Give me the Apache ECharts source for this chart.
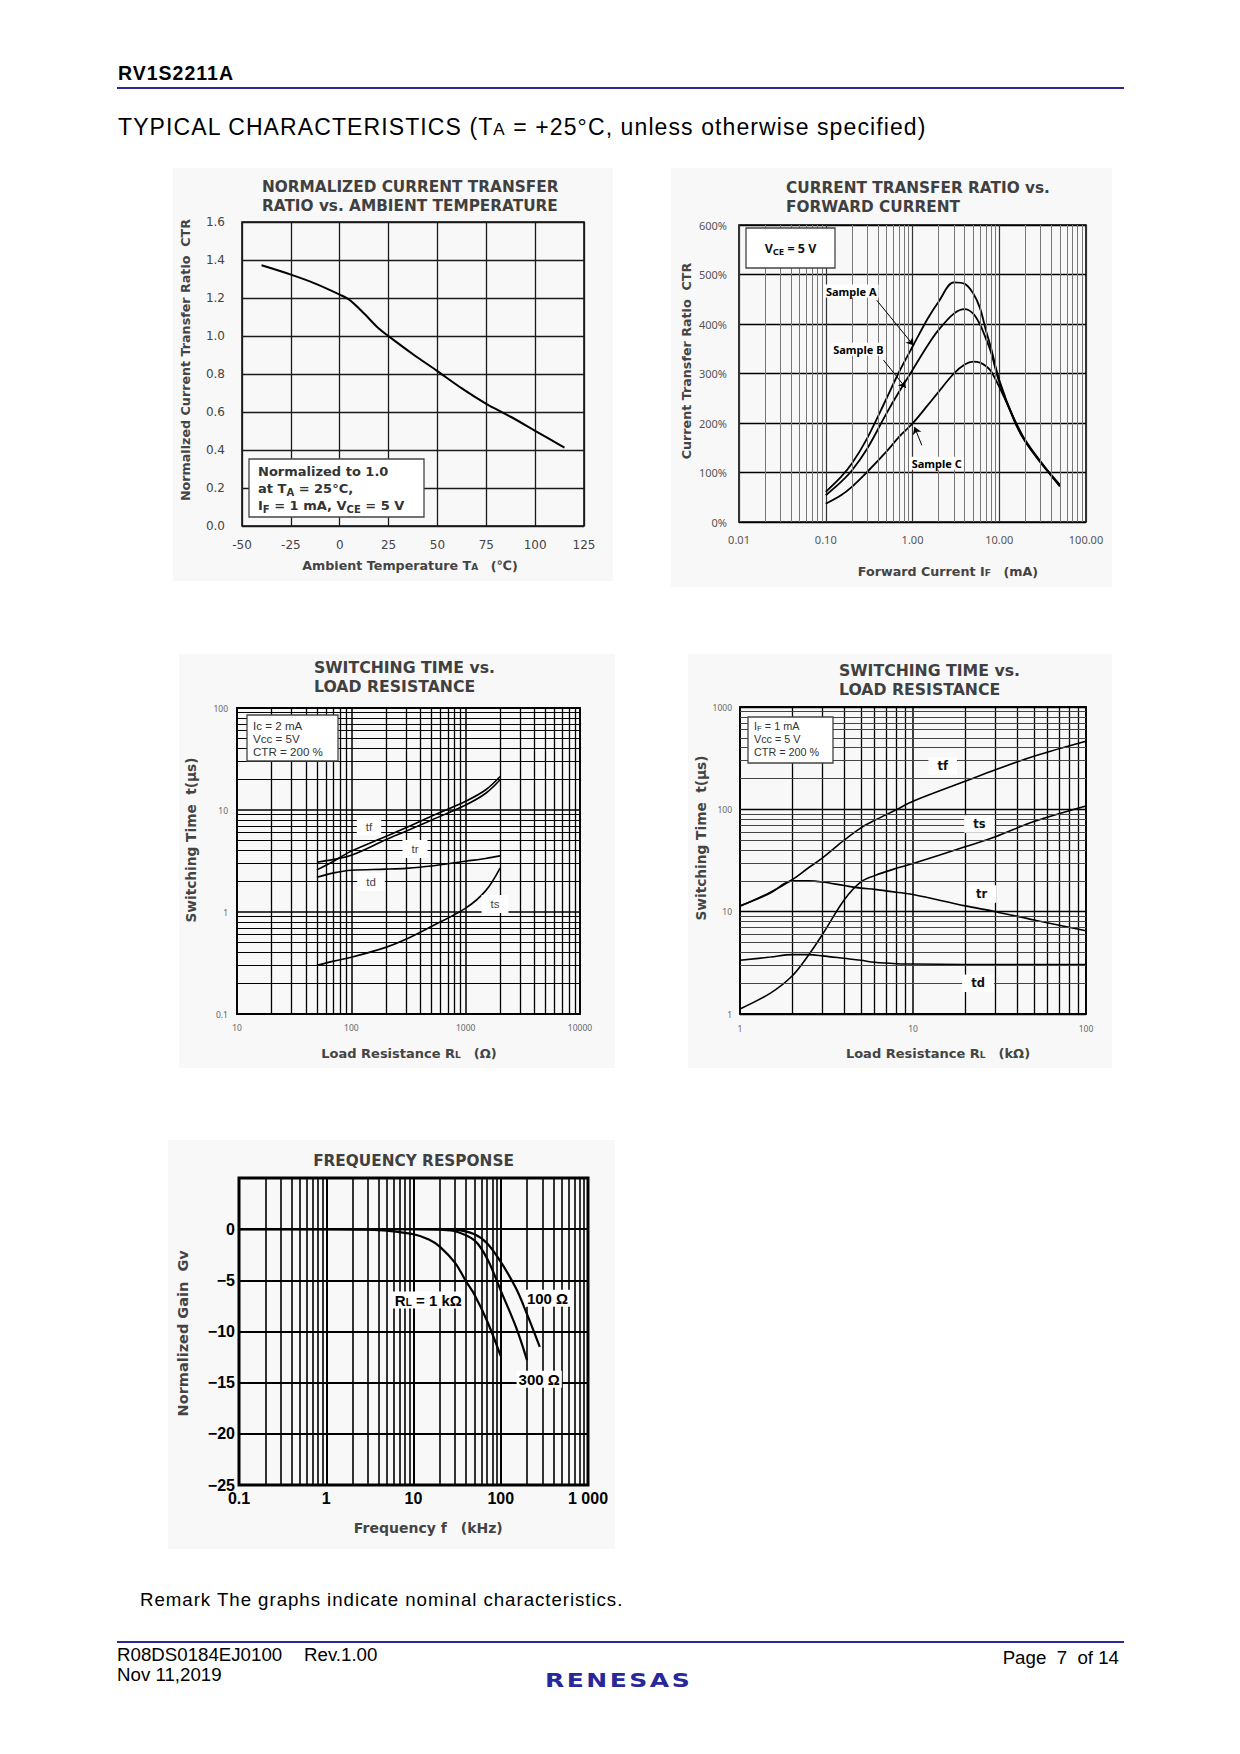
<!DOCTYPE html>
<html>
<head>
<meta charset="utf-8">
<script src="https://cdn.jsdelivr.net/npm/echarts@6/dist/echarts.min.js"></script>
<style>
html,body{margin:0;padding:0;background:#fff;}
#page{position:relative;width:1240px;height:1754px;overflow:hidden;background:#fff;}
#chart{position:absolute;left:0;top:0;width:1240px;height:1754px;}
.t{position:absolute;white-space:pre;font-family:"Liberation Sans",Arial,sans-serif;line-height:1;color:#000;}
.rule{position:absolute;left:117px;width:1007px;height:2px;background:#29299b;}
</style>
</head>
<body>
<div id="page">
<div id="chart"></div>
<div class="t" style="left:118px;top:63.5px;font-size:19.5px;font-weight:bold;letter-spacing:1px;">RV1S2211A</div>
<div class="rule" style="top:87.3px"></div>
<div class="t" style="left:118px;top:115.5px;font-size:23px;letter-spacing:1.1px;">TYPICAL CHARACTERISTICS (T<span style="font-size:17px">A</span> = +25°C, unless otherwise specified)</div>
<div class="t" style="left:140px;top:1591px;font-size:18.7px;letter-spacing:0.95px;">Remark The graphs indicate nominal characteristics.</div>
<div class="rule" style="top:1640.8px"></div>
<div class="t" style="left:117px;top:1646px;font-size:18.7px;">R08DS0184EJ0100</div>
<div class="t" style="left:304px;top:1646px;font-size:18.7px;">Rev.1.00</div>
<div class="t" style="left:117px;top:1666.2px;font-size:18.7px;">Nov 11,2019</div>
<div class="t" style="right:121px;top:1649.2px;font-size:18.7px;">Page  7  of 14</div>
<div class="t" style="left:545px;top:1670px;font-size:20px;font-weight:bold;font-family:'DejaVu Sans',sans-serif;letter-spacing:2px;color:#29289b;transform:scale(1.25,1);transform-origin:0 0;">RENESAS</div>
</div>
<script>
// ================= DATA =================
// Chart 1: Normalized CTR vs ambient temperature
const ambientTemp   = [-40, -25, -12.5, 0, 5, 12.5, 20, 25, 37.5, 50, 62.5, 75, 87.5, 100, 115];
const normalizedCtr = [1.372, 1.323, 1.276, 1.218, 1.19, 1.118, 1.039, 0.999, 0.904, 0.815, 0.724, 0.643, 0.575, 0.501, 0.412];
const tempTickLabels    = ['-50', '-25', '0', '25', '50', '75', '100', '125'];
const normCtrTickLabels = ['0.0', '0.2', '0.4', '0.6', '0.8', '1.0', '1.2', '1.4', '1.6'];

// Chart 2: CTR vs forward current (mA)
const forwardCurrent = [0.1, 0.15, 0.2, 0.3, 0.5, 0.7, 1, 1.5, 2, 3, 4, 5, 6, 7, 8, 10, 15, 20, 30, 50];
const ctrSampleA = [61, 91, 118, 169, 249, 303, 354, 411, 445, 484, 481, 462, 432, 388, 353, 287, 205, 163, 121, 75];
const ctrSampleB = [54, 81, 104, 148, 219, 263, 307, 357, 388, 421, 430, 421, 399, 371, 344, 283, 203, 162, 120, 73];
const ctrSampleC = [37, 54, 71, 101, 142, 172, 199, 236, 263, 300, 318, 324, 322, 315, 305, 273, 207, 165, 122, 72];
const ifTickLabels  = ['0.01', '0.10', '1.00', '10.00', '100.00'];
const ctrTickLabels = ['0%', '100%', '200%', '300%', '400%', '500%', '600%'];
// arrows from sample labels to curves: [from IF, from CTR, to IF, to CTR]
const sampleArrows = [[0.387, 448, 1.027, 357], [0.463, 327, 0.837, 271], [1.28, 155, 1.054, 192]];

// Chart 3: switching time vs load resistance (ohm), IC = 2 mA
const loadResOhm = [50, 70, 100, 200, 300, 500, 1000, 1500, 2000];
const tfOhm = [2.59, 3.15, 3.95, 5.5, 6.7, 8.7, 12.2, 15.8, 21.3];
const trOhm = [3.07, 3.28, 3.6, 5.1, 6.2, 7.95, 11.2, 14.6, 19.8];
const tdOhm = [2.19, 2.42, 2.57, 2.63, 2.68, 2.82, 3.15, 3.35, 3.55];
const tsOhm = [0.30, 0.33, 0.36, 0.45, 0.54, 0.72, 1.09, 1.62, 2.69];
const rOhmTickLabels = ['10', '100', '1000', '10000'];
const t3TickLabels   = ['0.1', '1', '10', '100'];

// Chart 4: switching time vs load resistance (kohm), IF = 1 mA
const loadResK = [1, 1.5, 2, 2.5, 3, 4, 5, 6, 8, 10, 20, 30, 50, 100];
const tfK = [11.3, 15.5, 20.5, 27, 33.5, 50, 66, 78, 99, 120, 188, 244, 330, 462];
const tsK = [1.12, 1.6, 2.35, 3.8, 6.0, 13, 19.5, 22.5, 26.5, 29.5, 43, 54, 76, 108];
const trK = [11.4, 15.2, 20, 20, 19.5, 18, 17, 16.5, 15.5, 14.7, 11.4, 10, 8.3, 6.5];
const tdK = [3.35, 3.6, 3.8, 3.8, 3.7, 3.5, 3.35, 3.2, 3.1, 3.08, 3.05, 3.05, 3.05, 3.05];
const rKTickLabels = ['1', '10', '100'];
const t4TickLabels = ['1', '10', '100', '1000'];

// Chart 5: frequency response (kHz, dB)
const freq1k  = [0.1, 1, 3, 5, 10, 15, 20, 30, 40, 50, 70, 100];
const gain1k  = [0, 0, -0.05, -0.15, -0.5, -1.0, -1.7, -3.3, -5.1, -6.4, -9.0, -12.4];
const freq300 = [0.1, 10, 20, 30, 50, 70, 100, 150, 200];
const gain300 = [0, 0, -0.05, -0.2, -1.1, -2.9, -6.0, -9.6, -12.8];
const freq100 = [0.1, 10, 20, 30, 50, 70, 100, 150, 200, 280];
const gain100 = [0, 0, 0, -0.05, -0.5, -1.4, -3.2, -5.8, -8.3, -11.5];
const freqTickLabels = ['0.1', '1', '10', '100', '1 000'];
const gainTickLabels = ['\u221225', '\u221220', '\u221215', '\u221210', '\u22125', '0', ''];

// ================= HELPERS =================
const FONT_V = "'DejaVu Sans', Verdana, 'Noto Sans CJK JP', sans-serif";
const FONT_N = "'Noto Sans', 'DejaVu Sans', sans-serif";
const FONT_A = "'Liberation Sans', Arial, sans-serif";

const pairs = (xs, ys) => xs.map((x, i) => [x, ys[i]]);
function minorLog(min, max) {
  const out = [];
  for (let e = Math.round(Math.log10(min)); e < Math.round(Math.log10(max)); e++) {
    const d = Math.pow(10, e);
    for (let k = 2; k <= 9; k++) out.push(parseFloat((k * d).toPrecision(4)));
  }
  return out;
}
const logLabel = (labels, min) => (v) => {
  const i = Math.round(Math.log10(v) - Math.log10(min));
  return labels[i] !== undefined ? labels[i] : '';
};
function markLines(items) {
  return { silent: true, symbol: ['none', 'none'], label: { show: false }, emphasis: { disabled: true },
           animation: false, lineStyle: { type: 'solid', color: '#000', width: 1 }, data: items };
}
const vLines = (vals, color, width) => vals.map(v => ({ xAxis: v, lineStyle: { type: 'solid', color, width } }));
const hLines = (vals, color, width) => vals.map(v => ({ yAxis: v, lineStyle: { type: 'solid', color, width } }));

function ax(gridIndex, extra) {
  return Object.assign({ gridIndex, axisLine: { show: false }, axisTick: { show: false },
    minorTick: { show: false }, minorSplitLine: { show: false } }, extra);
}
function lbl(o) {
  return Object.assign({ showMinLabel: true, showMaxLabel: true, hideOverlap: false }, o);
}
function curve(name, xi, data, width) {
  return { name, type: 'line', xAxisIndex: xi, yAxisIndex: xi, data, smooth: 0.35, showSymbol: false,
           symbol: 'none', silent: true, animation: false, z: 3,
           lineStyle: { color: '#000', width: width || 1.8 } };
}
function T(x, y, text, s, extra) {
  return Object.assign({ type: 'text', x, y, z: 100, silent: true,
    style: Object.assign({ text, fill: '#444', fontFamily: FONT_V, fontWeight: 'bold', fontSize: 12,
                           align: 'left', verticalAlign: 'middle' }, s) }, extra || {});
}
const ROT = { rotation: Math.PI / 2 };
function box(x, y, w, h) {
  return { type: 'rect', z: 90, silent: true, shape: { x, y, width: w, height: h },
           style: { fill: '#fff', stroke: '#444', lineWidth: 1.3 } };
}
function bg(x, y, w, h) {
  return { type: 'rect', z: -100, silent: true, shape: { x, y, width: w, height: h }, style: { fill: '#f8f8f8' } };
}
const sub = (size, fam, weight, fill, lh) => ({ fontSize: size, fontFamily: fam, fontWeight: weight, fill, lineHeight: lh, verticalAlign: 'bottom' });

// ================= OPTION =================
const gridBase = { show: true, borderColor: '#000', backgroundColor: 'transparent', containLabel: false, outerBoundsMode: 'none' };
const option = {
  animation: false,
  backgroundColor: 'transparent',
  grid: [
    Object.assign({ left: 242, top: 222, width: 342, height: 304, borderWidth: 1.5 }, gridBase),
    Object.assign({ left: 739, top: 225, width: 347, height: 297, borderWidth: 1.6 }, gridBase),
    Object.assign({ left: 237, top: 708, width: 343, height: 306, borderWidth: 1.8 }, gridBase),
    Object.assign({ left: 740, top: 707, width: 346, height: 307, borderWidth: 1.8 }, gridBase),
    Object.assign({ left: 239, top: 1178, width: 349, height: 307, borderWidth: 3 }, gridBase)
  ],
  xAxis: [
    ax(0, { type: 'value', min: -50, max: 125, interval: 25,
      splitLine: { show: true, lineStyle: { color: '#1a1a1a', width: 1.3 } },
      axisLabel: lbl({ color: '#444', fontFamily: FONT_V, fontSize: 12, margin: 13,
        formatter: v => tempTickLabels[Math.round((v + 50) / 25)] }) }),
    ax(1, { type: 'log', logBase: 10, min: 0.01, max: 100,
      splitLine: { show: true, lineStyle: { color: '#333', width: 1.2 } },
      axisLabel: lbl({ color: '#555', fontFamily: FONT_N, fontSize: 11, margin: 12, formatter: logLabel(ifTickLabels, 0.01) }) }),
    ax(2, { type: 'log', logBase: 10, min: 10, max: 10000,
      splitLine: { show: true, lineStyle: { color: '#000', width: 1.5 } },
      axisLabel: lbl({ color: '#666', fontFamily: FONT_N, fontSize: 8.5, margin: 9, formatter: logLabel(rOhmTickLabels, 10) }) }),
    ax(3, { type: 'log', logBase: 10, min: 1, max: 100,
      splitLine: { show: true, lineStyle: { color: '#000', width: 1.5 } },
      axisLabel: lbl({ color: '#666', fontFamily: FONT_N, fontSize: 8.5, margin: 10, formatter: logLabel(rKTickLabels, 1) }) }),
    ax(4, { type: 'log', logBase: 10, min: 0.1, max: 1000,
      splitLine: { show: true, lineStyle: { color: '#000', width: 2 } },
      axisLabel: lbl({ color: '#000', fontFamily: FONT_A, fontWeight: 'bold', fontSize: 16, margin: 5, formatter: logLabel(freqTickLabels, 0.1) }) })
  ],
  yAxis: [
    ax(0, { type: 'value', min: 0, max: 1.6, interval: 0.2,
      splitLine: { show: true, lineStyle: { color: '#1a1a1a', width: 1.3 } },
      axisLabel: lbl({ color: '#444', fontFamily: FONT_V, fontSize: 12, margin: 17,
        formatter: v => normCtrTickLabels[Math.round(v / 0.2)] }) }),
    ax(1, { type: 'value', min: 0, max: 600, interval: 100,
      splitLine: { show: true, lineStyle: { color: '#000', width: 1.3 } },
      axisLabel: lbl({ color: '#555', fontFamily: FONT_N, fontSize: 11, margin: 12,
        formatter: v => ctrTickLabels[Math.round(v / 100)] }) }),
    ax(2, { type: 'log', logBase: 10, min: 0.1, max: 100,
      splitLine: { show: true, lineStyle: { color: '#000', width: 1.5 } },
      axisLabel: lbl({ color: '#666', fontFamily: FONT_N, fontSize: 8.5, margin: 9, formatter: logLabel(t3TickLabels, 0.1) }) }),
    ax(3, { type: 'log', logBase: 10, min: 1, max: 1000,
      splitLine: { show: true, lineStyle: { color: '#000', width: 1.3 } },
      axisLabel: lbl({ color: '#666', fontFamily: FONT_N, fontSize: 8.5, margin: 8, formatter: logLabel(t4TickLabels, 1) }) }),
    ax(4, { type: 'value', min: -25, max: 5, interval: 5,
      splitLine: { show: true, lineStyle: { color: '#000', width: 2 } },
      axisLabel: lbl({ color: '#000', fontFamily: FONT_A, fontWeight: 'bold', fontSize: 16, margin: 4,
        formatter: v => gainTickLabels[Math.round((v + 25) / 5)] }) })
  ],
  series: [
    curve('Normalized CTR', 0, pairs(ambientTemp, normalizedCtr), 2),

    Object.assign(curve('Sample A', 1, pairs(forwardCurrent, ctrSampleA), 1.8),
      { markLine: markLines(vLines(minorLog(0.01, 100), '#777', 1)) }),
    Object.assign(curve('Sample B', 1, pairs(forwardCurrent, ctrSampleB), 1.8),
      { markLine: Object.assign(markLines(sampleArrows.map(a => [{ coord: [a[0], a[1]] }, { coord: [a[2], a[3]] }])),
          { symbol: ['none', 'arrow'], symbolSize: 7 }) }),
    curve('Sample C', 1, pairs(forwardCurrent, ctrSampleC), 1.8),

    Object.assign(curve('tf', 2, pairs(loadResOhm, tfOhm), 1.6),
      { markLine: markLines(vLines(minorLog(10, 10000), '#000', 1.3).concat(hLines(minorLog(0.1, 100), '#000', 1.2))) }),
    curve('tr', 2, pairs(loadResOhm, trOhm), 1.6),
    curve('td', 2, pairs(loadResOhm, tdOhm), 1.6),
    curve('ts', 2, pairs(loadResOhm, tsOhm), 1.6),

    Object.assign(curve('tf', 3, pairs(loadResK, tfK), 1.6),
      { markLine: markLines(vLines(minorLog(1, 100), '#000', 1.3).concat(hLines(minorLog(1, 1000), '#444', 1))) }),
    curve('ts', 3, pairs(loadResK, tsK), 1.6),
    curve('tr', 3, pairs(loadResK, trK), 1.6),
    curve('td', 3, pairs(loadResK, tdK), 1.6),

    Object.assign(curve('RL = 1 kΩ', 4, pairs(freq1k, gain1k), 2.2),
      { markLine: markLines(vLines(minorLog(0.1, 1000), '#000', 1.6)) }),
    curve('300 Ω', 4, pairs(freq300, gain300), 2.2),
    curve('100 Ω', 4, pairs(freq100, gain100), 2.2)
  ],
  graphic: [
    bg(173, 168, 440, 413), bg(671, 168, 441, 419), bg(179, 654, 436, 414), bg(688, 654, 424, 414), bg(168, 1140, 447, 409),

    // Chart 1 texts
    T(262, 177.5, 'NORMALIZED CURRENT TRANSFER\nRATIO vs. AMBIENT TEMPERATURE', { fontSize: 15.3, lineHeight: 19, verticalAlign: 'top', fill: '#404040' }),
    T(185, 360, 'Normalized Current Transfer Ratio  CTR', { fontSize: 12.7, align: 'center' }, ROT),
    T(410, 565, 'Ambient Temperature T{s|A}\u3000(\u2103)', { fontSize: 12.7, align: 'center', rich: { s: sub(9, FONT_V, 'bold', '#444', 8) } }),
    box(249, 459, 175, 58),
    T(258, 463.2, 'Normalized to 1.0\nat T{s|A} = 25°C,\nI{s|F} = 1 mA, V{s|CE} = 5 V',
      { fontSize: 13, lineHeight: 17, verticalAlign: 'top', fill: '#333', rich: { s: sub(10, FONT_V, 'bold', '#333', 15) } }),

    // Chart 2 texts
    T(786, 178.5, 'CURRENT TRANSFER RATIO vs.\nFORWARD CURRENT', { fontSize: 15.3, lineHeight: 19, verticalAlign: 'top', fill: '#404040' }),
    T(686, 361, 'Current Transfer Ratio  CTR', { fontSize: 12.7, align: 'center' }, ROT),
    T(948, 571, 'Forward Current I{s|F}\u3000(mA)', { fontSize: 12.7, align: 'center', rich: { s: sub(9, FONT_V, 'bold', '#444', 8) } }),
    box(746, 228, 89, 40),
    T(790.5, 248, 'V{s|CE} = 5 V', { fontFamily: FONT_N, fontSize: 12.5, fontWeight: 'bold', fill: '#111', align: 'center', lineHeight: 16,
      rich: { s: sub(9.5, FONT_N, 'bold', '#111', 14) } }),
    T(851.3, 291, 'Sample A', { fontFamily: FONT_N, fontSize: 11, fill: '#000', align: 'center', backgroundColor: '#fff', padding: [1, 2] }),
    T(858.3, 349.3, 'Sample B', { fontFamily: FONT_N, fontSize: 11, fill: '#000', align: 'center', backgroundColor: '#fff', padding: [1, 2] }),
    T(936.7, 463.3, 'Sample C', { fontFamily: FONT_N, fontSize: 11, fill: '#000', align: 'center', backgroundColor: '#fff', padding: [1, 2] }),

    // Chart 3 texts
    T(314, 657.5, 'SWITCHING TIME vs.\nLOAD RESISTANCE', { fontSize: 15.7, lineHeight: 19, verticalAlign: 'top', fill: '#404040' }),
    T(191, 840, 'Switching Time  t(μs)', { fontSize: 13.7, align: 'center' }, ROT),
    T(409, 1053, 'Load Resistance R{s|L}\u3000(Ω)', { fontSize: 13, align: 'center', rich: { s: sub(9, FONT_V, 'bold', '#444', 8) } }),
    box(247, 715, 91, 46),
    T(253, 718.5, 'Ic = 2 mA\nVcc = 5V\nCTR = 200 %', { fontFamily: FONT_A, fontWeight: 'normal', fontSize: 11.6, lineHeight: 13, verticalAlign: 'top', fill: '#333' }),
    T(369, 826.5, 'tf', { fontFamily: FONT_A, fontWeight: 'normal', fontSize: 11.5, fill: '#444', align: 'center', backgroundColor: '#fff', padding: [3, 9] }),
    T(415, 849, 'tr', { fontFamily: FONT_A, fontWeight: 'normal', fontSize: 11.5, fill: '#444', align: 'center', backgroundColor: '#fff', padding: [3, 9] }),
    T(371, 882, 'td', { fontFamily: FONT_A, fontWeight: 'normal', fontSize: 11.5, fill: '#444', align: 'center', backgroundColor: '#fff', padding: [3, 9] }),
    T(495, 904, 'ts', { fontFamily: FONT_A, fontWeight: 'normal', fontSize: 11.5, fill: '#444', align: 'center', backgroundColor: '#fff', padding: [3, 9] }),

    // Chart 4 texts
    T(839, 660.5, 'SWITCHING TIME vs.\nLOAD RESISTANCE', { fontSize: 15.7, lineHeight: 19, verticalAlign: 'top', fill: '#404040' }),
    T(701, 838, 'Switching Time  t(μs)', { fontSize: 13.7, align: 'center' }, ROT),
    T(938, 1053, 'Load Resistance R{s|L}\u3000(kΩ)', { fontSize: 13, align: 'center', rich: { s: sub(9, FONT_V, 'bold', '#444', 8) } }),
    box(748, 717, 85, 46),
    T(754, 719.5, 'I{s|F} = 1 mA\nVcc = 5 V\nCTR = 200 %', { fontFamily: FONT_A, fontWeight: 'normal', fontSize: 10.8, lineHeight: 13, verticalAlign: 'top', fill: '#333',
      rich: { s: sub(8, FONT_A, 'normal', '#333', 12) } }),
    T(942.7, 766, 'tf', { fontSize: 11.5, fill: '#111', align: 'center', backgroundColor: '#fff', padding: [3, 9] }),
    T(979.3, 824, 'ts', { fontSize: 11.5, fill: '#111', align: 'center', backgroundColor: '#fff', padding: [3, 9] }),
    T(981.7, 894, 'tr', { fontSize: 11.5, fill: '#111', align: 'center', backgroundColor: '#fff', padding: [3, 9] }),
    T(978, 983.3, 'td', { fontSize: 11.5, fill: '#111', align: 'center', backgroundColor: '#fff', padding: [3, 9] }),

    // Chart 5 texts
    T(413.5, 1160.7, 'FREQUENCY RESPONSE', { fontSize: 15.3, align: 'center', fill: '#404040' }),
    T(183.3, 1333.3, 'Normalized Gain  Gv', { fontSize: 14.5, align: 'center' }, ROT),
    T(428.3, 1527.7, 'Frequency f\u3000(kHz)', { fontSize: 14, align: 'center' }),
    T(428.3, 1300, 'R{s|L} = 1 kΩ', { fontFamily: FONT_A, fontSize: 15, fill: '#000', align: 'center', backgroundColor: '#fff', padding: [1, 2],
      rich: { s: sub(10, FONT_A, 'bold', '#000', 14) } }),
    T(547.5, 1298.3, '100 Ω', { fontFamily: FONT_A, fontSize: 15, fill: '#000', align: 'center', backgroundColor: '#fff', padding: [1, 2] }),
    T(539.2, 1379.3, '300 Ω', { fontFamily: FONT_A, fontSize: 15, fill: '#000', align: 'center', backgroundColor: '#fff', padding: [1, 2] })
  ]
};

const chart = echarts.init(document.getElementById('chart'), null, { renderer: 'svg', width: 1240, height: 1754 });
chart.setOption(option);
</script>
</body>
</html>
